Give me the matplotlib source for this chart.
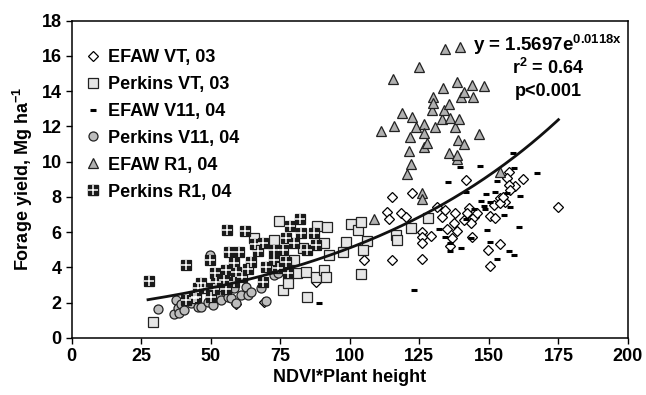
import matplotlib
matplotlib.use('Agg')
import matplotlib.pyplot as plt
import numpy as np
from matplotlib.lines import Line2D
from matplotlib.legend_handler import HandlerTuple

plt.rcParams['font.family'] = ['Liberation Sans', 'DejaVu Sans']
plt.rcParams['font.weight'] = 'bold'
plt.rcParams['mathtext.fontset'] = 'custom'
plt.rcParams['mathtext.rm'] = 'Liberation Sans:bold'
plt.rcParams['mathtext.it'] = 'Liberation Sans:bold'
plt.rcParams['mathtext.bf'] = 'Liberation Sans:bold'

# EFAW VT, 03 (open diamonds)
efaw_vt_x = [59, 69.3, 87.8, 105.1, 115.3, 125.8, 113.5, 114.1, 115.3, 118.3, 120.1, 122.2,
             126, 129.3, 126, 126, 131.4, 133, 134.4, 135, 141.6, 157.1, 156.5, 162.3, 159.5,
             157.1, 153.9, 155.9, 151.7, 154.1, 150.5, 152.3, 138, 142.8, 144.5, 143.4, 138.6,
             137.4, 136.8, 136.2, 144, 154.1, 149.7, 150.5, 175, 155.2, 157.7, 145.8, 141, 142.2]
efaw_vt_y = [1.9, 2.06, 3.19, 4.42, 4.4, 4.5, 7.16, 6.74, 8.0, 7.1, 6.87, 8.23,
             6.02, 5.78, 5.7, 5.36, 7.44, 6.87, 7.25, 6.18, 8.95, 9.42, 9.05, 8.99, 8.61,
             8.67, 7.92, 7.72, 7.54, 7.63, 6.91, 6.78, 7.07, 7.35, 6.87, 6.5, 6.06,
             6.5, 5.65, 5.21, 5.74, 5.33, 4.99, 4.08, 7.44, 8.0, 8.39, 7.07, 6.69, 7.07]

# Perkins VT, 03 (light squares)
perk_vt_x = [29.3, 65.7, 72.9, 74.7, 75.9, 77.7, 80, 81.2, 83.3, 84.2, 84.8, 87.8, 88.4,
             90.8, 90.9, 91.4, 92, 92.6, 97.4, 98.6, 100.4, 102.8, 103.9, 106.3, 104.9,
             103.9, 116.5, 117.1, 121.9, 128.1]
perk_vt_y = [0.92, 5.65, 5.55, 6.65, 2.72, 3.1, 4.42, 3.67, 5.08, 3.76, 2.31, 3.44, 6.36,
             5.37, 3.85, 3.44, 6.31, 4.7, 4.89, 5.46, 6.44, 6.12, 6.59, 5.51, 4.99,
             3.61, 5.84, 5.55, 6.21, 6.78]

# EFAW V11, 04 (dashes)
efaw_v11_x = [89, 123, 132, 134.4, 135.2, 136.2, 136.2, 139.8, 140, 141.6, 141.6, 143.4,
              144.6, 146.7, 147, 148.1, 148.7, 149.1, 149.3, 150.3, 150.5, 152.1, 152.9,
              152.9, 155.3, 156.5, 157.1, 157.7, 158.6, 158.9, 158.9, 160.7, 161.3, 167.2]
efaw_v11_y = [1.97, 2.72, 6.18, 5.7, 8.82, 5.4, 4.93, 9.72, 5.1, 8.29, 6.72, 5.65,
              7.29, 9.74, 7.78, 7.48, 7.29, 8.16, 6.12, 5.46, 7.72, 8.29, 8.91,
              4.46, 6.97, 8.2, 4.95, 7.44, 10.5, 9.61, 4.7, 6.27, 8.05, 9.37]

# Perkins V11, 04 (gray circles)
perk_v11_x = [31.1, 37, 37.6, 38.2, 38.8, 39.2, 40.6, 43, 45.4, 46.6, 49, 49.6, 50.8, 52.6,
              53.8, 56.2, 57.3, 58.5, 59.1, 60.9, 62.7, 63.3, 64.5, 68.1, 69.9, 72.9, 74.1]
perk_v11_y = [1.63, 1.36, 2.15, 1.68, 1.4, 1.92, 1.6, 1.97, 1.78, 1.74, 2.06, 4.7, 1.88, 2.43,
              2.15, 2.34, 2.25, 2.81, 1.97, 2.43, 2.9, 2.43, 2.62, 2.86, 2.11, 3.55, 3.67]

# EFAW R1, 04 (gray triangles)
efaw_r1_x = [108.7, 111.1, 115.7, 115.9, 118.6, 120.4, 121.3, 121.6, 121.9, 122.5, 123.7,
             124.8, 126, 126, 126.6, 126.6, 126.6, 127.8, 129.6, 129.9, 129.9, 130.5, 133,
             133.4, 133.8, 134.2, 135.6, 135.8, 136.2, 138, 138.4, 138.4, 138.6, 138.8,
             139.2, 139.8, 140.1, 141, 141.2, 144, 144.3, 146.6, 148.2, 154]
efaw_r1_y = [6.73, 11.73, 14.66, 12.01, 12.77, 9.29, 10.6, 11.4, 9.84, 12.54, 11.94,
             15.34, 8.23, 7.86, 12.12, 11.6, 10.84, 11.03, 12.92, 13.67, 13.3, 11.97, 12.39,
             14.18, 12.92, 16.41, 10.46, 13.26, 12.45, 11.97, 14.52, 10.12, 10.37, 11.22,
             12.41, 16.5, 13.67, 13.95, 10.99, 14.33, 13.64, 11.56, 14.29, 9.42]

# Perkins R1, 04 (black squares with white cross)
perk_r1_x = [27.8, 41, 41.2, 44.2, 44.8, 45.4, 46.6, 47.8, 49.8, 50, 51.2, 51.6, 51.8, 54.9,
             55.4, 55.6, 55.8, 56.7, 58.4, 58.5, 59.1, 60.3, 61.3, 62.5, 63.3, 64.5, 65.9,
             66.9, 68.7, 68.7, 69.9, 72.9, 72.9, 74.1, 75.9, 77, 77, 77.7, 78.6, 80, 82,
             82.4, 84.8, 87.2, 87.8]
perk_r1_y = [3.23, 4.15, 2.15, 2.25, 2.34, 2.82, 3.1, 2.82, 4.42, 2.3, 2.76, 3.7, 3.2, 3.29,
             2.75, 3.85, 6.14, 4.89, 3.2, 4.23, 3.76, 4.86, 3.48, 6.06, 3.89, 4.32, 5.35,
             4.95, 5.36, 3.19, 4.04, 4.99, 4.4, 3.95, 4.99, 5.65, 4.32, 3.7, 6.35, 5.4, 6.72,
             5.93, 5.0, 5.93, 5.3]

# exponential fit y = a*exp(b*x)
fit_a, fit_b = 1.5697, 0.0118
fit_range = (27.5, 175)

fig = plt.figure(figsize=(6.46, 3.95), dpi=100)
ax = fig.add_axes([71.5 / 646, 57 / 395, 556.5 / 646, 317.5 / 395])

ms = 6.5
ax.plot(efaw_vt_x, efaw_vt_y, 'D', ms=5.5, mfc='white', mec='black', mew=0.9, ls='none', zorder=3)
ax.plot(perk_vt_x, perk_vt_y, 's', ms=ms, mfc='#e6e6e6', mec='#222222', mew=0.9, ls='none', zorder=3)
ax.plot(efaw_v11_x, efaw_v11_y, '_', ms=5, mec='black', mew=2.2, ls='none', zorder=3)
ax.plot(perk_v11_x, perk_v11_y, 'o', ms=ms, mfc='#bdbdbd', mec='#222222', mew=0.9, ls='none', zorder=3)
ax.plot(efaw_r1_x, efaw_r1_y, '^', ms=ms, mfc='#b0b0b0', mec='#222222', mew=0.9, ls='none', zorder=3)
ax.plot(perk_r1_x, perk_r1_y, 's', ms=7, mfc='#1a1a1a', mec='#1a1a1a', mew=0.9, ls='none', zorder=4)
ax.plot(perk_r1_x, perk_r1_y, '+', ms=6.5, mec='white', mew=1.1, ls='none', zorder=5)

xf = np.linspace(fit_range[0], fit_range[1], 200)
ax.plot(xf, fit_a * np.exp(fit_b * xf), color='#111111', lw=2, zorder=6)

ax.set_xlim(0, 200)
ax.set_ylim(0, 18)
ax.set_xticks(np.arange(0, 201, 25))
ax.set_yticks(np.arange(0, 19, 2))
ax.tick_params(direction='out', length=4, width=1, labelsize=13, pad=3)
for lab in ax.get_xticklabels() + ax.get_yticklabels():
    lab.set_fontweight('bold')
for sp in ax.spines.values():
    sp.set_linewidth(1.1)

ax.set_xlabel('NDVI*Plant height', fontsize=13, fontweight='bold', labelpad=3)
ax.set_ylabel('Forage yield, Mg ha$^{-1}$', fontsize=13, fontweight='bold', labelpad=5)

ax.text(171.0, 16.62, 'y = 1.5697e$^{0.0118x}$', fontsize=13.5, fontweight='bold',
        ha='center', va='center')
ax.text(171.4, 15.3, 'r$^{2}$ = 0.64', fontsize=13, fontweight='bold', ha='center', va='center')
ax.text(171.4, 13.98, 'p<0.001', fontsize=13, fontweight='bold', ha='center', va='center')

handles = [
    Line2D([], [], marker='D', ms=5.5, mfc='white', mec='black', mew=0.9, ls='none'),
    Line2D([], [], marker='s', ms=ms, mfc='#e6e6e6', mec='#222222', mew=0.9, ls='none'),
    Line2D([], [], marker='_', ms=5, mec='black', mew=2.2, ls='none'),
    Line2D([], [], marker='o', ms=ms, mfc='#bdbdbd', mec='#222222', mew=0.9, ls='none'),
    Line2D([], [], marker='^', ms=ms, mfc='#b0b0b0', mec='#222222', mew=0.9, ls='none'),
    (Line2D([], [], marker='s', ms=7, mfc='#1a1a1a', mec='#1a1a1a', ls='none'),
     Line2D([], [], marker='+', ms=6.5, mec='white', mew=1.1, ls='none')),
]
labels = ['EFAW VT, 03', 'Perkins VT, 03', 'EFAW V11, 04', 'Perkins V11, 04',
          'EFAW R1, 04', 'Perkins R1, 04']
ax.legend(handles, labels, loc='upper left', bbox_to_anchor=(0.0, 0.95), frameon=False,
          handlelength=0.95, handletextpad=0.35, labelspacing=0.55,
          borderaxespad=0.3, handler_map={tuple: HandlerTuple(ndivide=1)},
          prop={'weight': 'bold', 'size': 13})

fig.savefig('out.png', dpi=100)
